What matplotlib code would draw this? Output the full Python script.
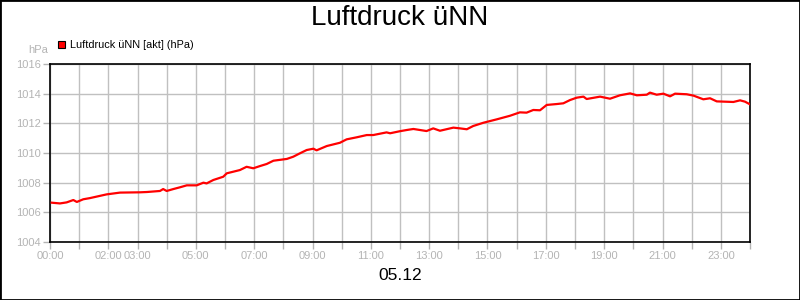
import matplotlib
matplotlib.use("Agg")
import matplotlib.pyplot as plt
from matplotlib.patches import Rectangle

# Stunden seit 00:00 und Luftdruck (hPa)
stunden = [0.06, 0.34, 0.57, 0.80, 0.92, 1.14, 1.37, 1.94, 2.40, 3.09, 3.32, 3.77,
           3.88, 4.00, 4.23, 4.46, 4.69, 5.03, 5.26, 5.37, 5.60, 5.94, 6.06, 6.51,
           6.74, 6.97, 7.20, 7.43, 7.66, 8.12, 8.34, 8.57, 8.80, 9.03, 9.14, 9.49,
           9.94, 10.17, 10.52, 10.86, 11.08, 11.54, 11.66, 12.00, 12.23, 12.46, 12.91,
           13.14, 13.37, 13.83, 14.06, 14.29, 14.51, 14.86, 15.32, 15.77, 16.11, 16.34,
           16.57, 16.80, 17.03, 17.37, 17.60, 17.83, 18.06, 18.29, 18.40, 18.86, 19.20,
           19.54, 19.89, 20.12, 20.46, 20.57, 20.80, 21.03, 21.26, 21.43, 21.83, 22.06,
           22.40, 22.63, 22.86, 23.43, 23.66, 23.83, 23.98]
druck = [1006.65, 1006.60, 1006.67, 1006.83, 1006.70, 1006.88, 1006.96, 1007.21, 1007.33,
         1007.35, 1007.37, 1007.44, 1007.57, 1007.44, 1007.57, 1007.69, 1007.82, 1007.82,
         1008.00, 1007.95, 1008.18, 1008.40, 1008.63, 1008.85, 1009.07, 1008.97, 1009.12,
         1009.26, 1009.48, 1009.60, 1009.75, 1009.98, 1010.20, 1010.29, 1010.18, 1010.47,
         1010.69, 1010.92, 1011.06, 1011.21, 1011.21, 1011.39, 1011.33, 1011.47, 1011.55,
         1011.62, 1011.48, 1011.66, 1011.50, 1011.71, 1011.66, 1011.60, 1011.82, 1012.04,
         1012.27, 1012.51, 1012.74, 1012.72, 1012.90, 1012.88, 1013.24, 1013.30, 1013.35,
         1013.57, 1013.73, 1013.80, 1013.64, 1013.80, 1013.66, 1013.89, 1014.02, 1013.89,
         1013.93, 1014.07, 1013.93, 1014.00, 1013.82, 1014.00, 1013.96, 1013.87, 1013.62,
         1013.69, 1013.48, 1013.44, 1013.55, 1013.46, 1013.30]

beschriftete_stunden = [0, 2, 3, 5, 7, 9, 11, 13, 15, 17, 19, 21, 23]
y_ticks = [1004, 1006, 1008, 1010, 1012, 1014, 1016]

grau = "#b4b4b4"
plt.rcParams["font.family"] = ["Liberation Sans", "DejaVu Sans"]

fig = plt.figure(figsize=(8, 3), dpi=100)
ax = fig.add_axes([50 / 800, 1 - 242 / 300, 700 / 800, 178 / 300])

ax.plot(stunden, druck, color="#ff0000", linewidth=1.6, zorder=3)

ax.set_xlim(0, 24)
ax.set_ylim(1004, 1016)
ax.set_xticks(range(25))
ax.set_xticklabels([f"{h:02d}:00" if h in beschriftete_stunden else "" for h in range(25)])
ax.set_yticks(y_ticks)
ax.set_yticklabels([str(v) for v in y_ticks])
ax.grid(True, color="#c0c0c0", linewidth=1)
ax.set_axisbelow(True)
ax.tick_params(colors=grau, labelsize=8, length=5, width=1, pad=1.5)
for s in ax.spines.values():
    s.set_color("black")
    s.set_linewidth(1.2)

fig.text(0.5, 1 - 18 / 300, "Luftdruck üNN", ha="center", va="center", fontsize=20)
fig.text(0.5, 1 - 276 / 300, "05.12", ha="center", va="center", fontsize=12.5)
fig.text(48 / 800, 1 - 50 / 300, "hPa", ha="right", va="center", fontsize=8, color=grau)

# Legende
fig.patches.append(Rectangle((58 / 800, 1 - 48 / 300), 7 / 800, 7 / 300,
                             transform=fig.transFigure, facecolor="#ff0000",
                             edgecolor="black", linewidth=0.8))
fig.text(70 / 800, 1 - 44.5 / 300, "Luftdruck üNN [akt] (hPa)", ha="left", va="center",
         fontsize=7.8, color="black")

# Rahmen ums Bild
fig.patches.append(Rectangle((0, 0), 1, 1, transform=fig.transFigure, fill=False,
                             edgecolor="black", linewidth=2))

fig.savefig("out.png", dpi=100)
